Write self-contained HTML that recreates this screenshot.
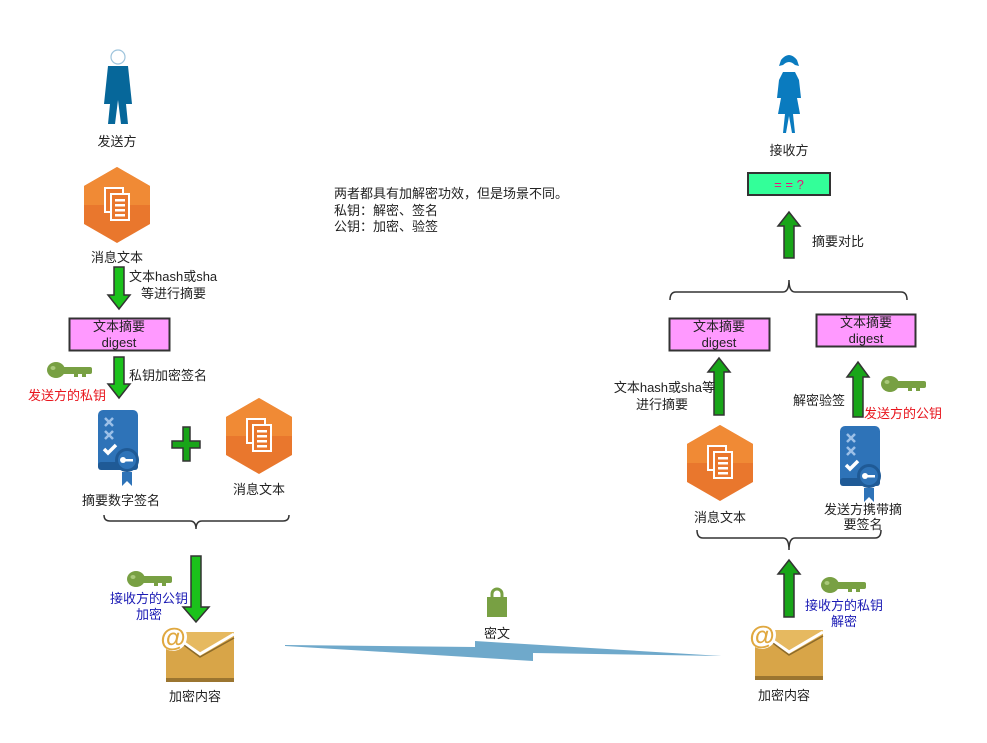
<!DOCTYPE html>
<html><head><meta charset="utf-8"><style>
html,body{margin:0;padding:0;background:#fff;}
svg{display:block;font-family:"Liberation Sans","Noto Sans CJK SC",sans-serif;}
text{font-size:13px;fill:#222;}
</style></head><body>
<svg width="987" height="743" viewBox="0 0 987 743" xmlns="http://www.w3.org/2000/svg">
<defs>
<g id="hex">
<polygon points="0,-38 33,-19 33,19 0,38 -33,19 -33,-19" fill="#e9772d"/>
<polygon points="0,-38 33,-19 33,0 -33,0 -33,-19" fill="#f08a35"/>
<rect x="-13" y="-18" width="20" height="26" fill="#fff"/>
<rect x="-11" y="-16" width="16" height="22" fill="#e9772d"/>
<rect x="-7" y="-12" width="20" height="28" fill="#fff"/>
<rect x="-5" y="-10" width="16" height="24" fill="#e9772d"/>
<rect x="-2" y="-6" width="10" height="2.5" fill="#fff"/>
<rect x="-2" y="-1" width="10" height="2.5" fill="#fff"/>
<rect x="-2" y="4" width="10" height="2.5" fill="#fff"/>
<rect x="-2" y="9" width="10" height="2.5" fill="#fff"/>
</g>
<g id="key">
<ellipse cx="8" cy="8" rx="9" ry="8" fill="#78a043"/>
<rect x="12" y="5" width="32" height="7" rx="2" fill="#78a043"/>
<rect x="26" y="10" width="4" height="5" fill="#78a043"/>
<rect x="34" y="10" width="4" height="5" fill="#78a043"/>
<ellipse cx="5" cy="6" rx="2.5" ry="2" fill="#a9c97a"/>
</g>
<g id="cert">
<rect x="0" y="0" width="40" height="60" rx="5" fill="#2e73b8"/>
<rect x="0" y="52" width="40" height="8" rx="3" fill="#1f5a96"/>
<path d="M7 8 l8 8 M15 8 l-8 8 M7 21 l8 8 M15 21 l-8 8" stroke="#9cc0e8" stroke-width="2.5"/>
<path d="M6 39 l4 4 l8 -8" stroke="#fff" stroke-width="3.5" fill="none"/>
<polygon points="24,62 24,76 29,71 34,76 34,62" fill="#2e73b8"/>
<circle cx="29" cy="50" r="12" fill="#1f5a96"/>
<circle cx="29" cy="50" r="9" fill="#2e73b8"/>
<circle cx="25" cy="50" r="3" fill="#fff"/>
<rect x="25" y="49" width="10" height="2.5" fill="#fff"/>
</g>
<g id="env">
<rect x="9" y="10" width="68" height="50" fill="#d8a548"/>
<rect x="9" y="56" width="68" height="4" fill="#9b7530"/>
<polygon points="9,10 77,10 77,14 43,34 9,14" fill="#e6b960"/>
<polyline points="20,16 43,32 77,12" fill="none" stroke="#fff" stroke-width="3"/>
<polyline points="20,18 43,35 77,16" fill="none" stroke="#8b6a2a" stroke-width="1.5"/>
<circle cx="16" cy="15" r="14" fill="#fff"/>
<text x="16" y="24" text-anchor="middle" style="font-size:26px;font-weight:bold;fill:#e0a840">@</text>
</g>
</defs>

<!-- Sender -->
<circle cx="118" cy="57" r="7" fill="#fff" stroke="#9ec4dc" stroke-width="1.2"/>
<polygon points="108,66 128,66 132,104 126,104 128,124 121,124 118,100 115,124 108,124 110,104 104,104" fill="#06679a"/>
<text x="117" y="146" text-anchor="middle">发送方</text>
<use href="#hex" x="117" y="205"/>
<text x="117" y="262" text-anchor="middle">消息文本</text>
<polygon points="114,267 124,267 124,295 130,295 119,309 108,295 114,295" fill="#1bc21b" stroke="#333" stroke-width="1.5"/>
<text x="129" y="281">文本hash或sha</text>
<text x="141" y="298">等进行摘要</text>
<rect x="69.5" y="318.5" width="100" height="32" fill="#ff99ff" stroke="#333" stroke-width="2"/>
<text x="119" y="331" text-anchor="middle">文本摘要</text>
<text x="119" y="347" text-anchor="middle">digest</text>
<polygon points="114,357 124,357 124,384 130,384 119,398 108,384 114,384" fill="#1bc21b" stroke="#333" stroke-width="1.5"/>
<text x="129" y="380">私钥加密签名</text>
<use href="#key" x="48" y="362"/>
<text x="28" y="400" style="fill:#e8141c">发送方的私钥</text>
<use href="#cert" x="98" y="410"/>
<text x="121" y="505" text-anchor="middle">摘要数字签名</text>
<polygon points="183,427 190,427 190,441 200,441 200,448 190,448 190,461 183,461 183,448 172,448 172,441 183,441" fill="#18a518" stroke="#333" stroke-width="1.5"/>
<use href="#hex" x="259" y="436"/>
<text x="259" y="494" text-anchor="middle">消息文本</text>
<path d="M104 515 q0 6 6 6 h80 q6 0 6 8 q0 -8 6 -8 h81 q6 0 6 -6" fill="none" stroke="#333" stroke-width="1.5"/>
<polygon points="191,556 201,556 201,607 209,607 196,622 183,607 191,607" fill="#1bc21b" stroke="#333" stroke-width="1.5"/>
<use href="#key" x="128" y="571"/>
<text x="149" y="603" text-anchor="middle" style="fill:#1a1ab4">接收方的公钥</text>
<text x="149" y="619" text-anchor="middle" style="fill:#1a1ab4">加密</text>
<use href="#env" x="157" y="622"/>
<text x="195" y="701" text-anchor="middle">加密内容</text>

<!-- center -->
<text x="334" y="198">两者都具有加解密功效，但是场景不同。</text>
<text x="334" y="215">私钥：解密、签名</text>
<text x="334" y="231">公钥：加密、验签</text>
<rect x="492" y="589" width="10" height="14" rx="5" fill="none" stroke="#78a043" stroke-width="3"/>
<rect x="487" y="597" width="20" height="20" fill="#78a043"/>
<text x="497" y="638" text-anchor="middle">密文</text>
<polygon points="285,645 475,647 475,641 722,656 533,653 533,661 285,646" fill="#6fa9cb"/>

<!-- Receiver -->
<circle cx="789" cy="64" r="6" fill="#fff"/>
<path d="M781 60 q8 -10 16 0 l2 6 l-4 -1 q-6 -6 -12 0 l-4 1z" fill="#0a7bbf"/>
<polygon points="783,72 795,72 799,80 801,98 797,98 800,114 793,114 795,133 792,133 789,116 786,133 783,133 785,114 778,114 781,98 777,98 779,80" fill="#0a7bbf"/>
<text x="789" y="155" text-anchor="middle">接收方</text>
<rect x="748" y="173" width="82" height="22" fill="#33ff99" stroke="#333" stroke-width="2"/>
<text x="789" y="189" text-anchor="middle" style="fill:#e8147a">= = ?</text>
<polygon points="784,258 794,258 794,226 800,226 789,212 778,226 784,226" fill="#18a518" stroke="#333" stroke-width="1.5"/>
<text x="812" y="246">摘要对比</text>
<path d="M670 300 q0 -8 6 -8 h107 q6 0 6 -12 q0 12 6 12 h106 q6 0 6 8" fill="none" stroke="#333" stroke-width="1.5"/>
<rect x="669.5" y="318.5" width="100" height="32" fill="#ff99ff" stroke="#333" stroke-width="2"/>
<text x="719" y="331" text-anchor="middle">文本摘要</text>
<text x="719" y="347" text-anchor="middle">digest</text>
<rect x="816.5" y="314.5" width="99" height="32" fill="#ff99ff" stroke="#333" stroke-width="2"/>
<text x="866" y="327" text-anchor="middle">文本摘要</text>
<text x="866" y="343" text-anchor="middle">digest</text>
<polygon points="714,415 724,415 724,372 730,372 719,358 708,372 714,372" fill="#18a518" stroke="#333" stroke-width="1.5"/>
<text x="715" y="392" text-anchor="end">文本hash或sha等</text>
<text x="662" y="409" text-anchor="middle">进行摘要</text>
<polygon points="853,417 863,417 863,377 869,377 858,362 847,377 853,377" fill="#18a518" stroke="#333" stroke-width="1.5"/>
<text x="819" y="405" text-anchor="middle">解密验签</text>
<use href="#key" x="882" y="376"/>
<text x="864" y="418" style="fill:#e8141c">发送方的公钥</text>
<use href="#hex" x="720" y="463"/>
<text x="720" y="522" text-anchor="middle">消息文本</text>
<use href="#cert" x="840" y="426"/>
<text x="863" y="514" text-anchor="middle">发送方携带摘</text>
<text x="863" y="529" text-anchor="middle">要签名</text>
<path d="M697 530 q0 8 6 8 h80 q6 0 6 12 q0 -12 6 -12 h80 q6 0 6 -8" fill="none" stroke="#333" stroke-width="1.5"/>
<polygon points="784,617 794,617 794,574 800,574 789,560 778,574 784,574" fill="#18a518" stroke="#333" stroke-width="1.5"/>
<use href="#key" x="822" y="577"/>
<text x="844" y="610" text-anchor="middle" style="fill:#1a1ab4">接收方的私钥</text>
<text x="844" y="626" text-anchor="middle" style="fill:#1a1ab4">解密</text>
<use href="#env" x="746" y="620"/>
<text x="784" y="700" text-anchor="middle">加密内容</text>
</svg>
</body></html>
